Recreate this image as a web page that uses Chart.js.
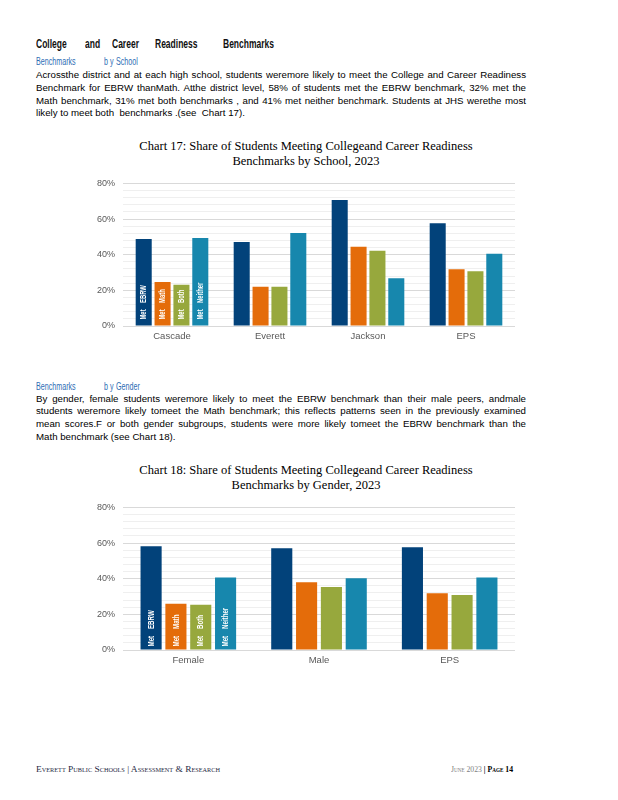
<!DOCTYPE html>
<html>
<head>
<meta charset="utf-8">
<script src="https://cdn.jsdelivr.net/npm/chart.js@4.4.0/dist/chart.umd.min.js"></script>
<style>
  body { margin: 0; background: #fff; width: 618px; height: 800px; position: relative; overflow: hidden; }
  .abs { position: absolute; white-space: nowrap; transform-origin: left center; }
  .h1 { font: bold 12.5px "Liberation Sans", Arial, sans-serif; color: #111; line-height: 12px; transform: scaleX(0.68); }
  .h2 { font: 10.5px "Liberation Sans", Arial, sans-serif; color: #2e6db4; line-height: 10px; transform: scaleX(0.68); }
  .line { position: absolute; left: 36px; width: 490px; font: 9.7px "Liberation Sans", Arial, sans-serif; color: #000; line-height: 12px; text-align: justify; text-align-last: justify; }
  .line.last { text-align-last: left; }
  .ctitle { position: absolute; left: 80px; width: 452px; text-align: center; font: 12.5px "Liberation Serif", "Times New Roman", serif; line-height: 15px; color: #000; }
  canvas { position: absolute; }
  .foot { font-family: "Liberation Serif", "Times New Roman", serif; font-variant: small-caps; line-height: 10px; font-size: 9px; }
</style>
</head>
<body>
<div class="abs h1" style="left:36px;top:38px">College</div>
<div class="abs h1" style="left:85px;top:38px">and</div>
<div class="abs h1" style="left:112px;top:38px">Career</div>
<div class="abs h1" style="left:155px;top:38px">Readiness</div>
<div class="abs h1" style="left:223px;top:38px">Benchmarks</div>

<div class="abs h2" style="left:36px;top:56px">Benchmarks</div>
<div class="abs h2" style="left:104px;top:56px">b y</div>
<div class="abs h2" style="left:116px;top:56px">School</div>

<div class="line" style="top:69px">Acrossthe district and at each high school, students weremore likely to meet the College and Career Readiness</div>
<div class="line" style="top:82px">Benchmark for EBRW thanMath. Atthe district level, 58% of students met the EBRW benchmark, 32% met the</div>
<div class="line" style="top:95px">Math benchmark, 31% met both benchmarks , and 41% met neither benchmark. Students at JHS werethe most</div>
<div class="line last" style="top:107px">likely to meet both &nbsp;benchmarks .(see &nbsp;Chart 17).</div>

<div class="ctitle" style="top:139px">Chart 17: Share of Students Meeting Collegeand Career Readiness<br>Benchmarks by School, 2023</div>
<canvas id="chart17" style="left:80px;top:170px;width:450px;height:180px"></canvas>

<div class="abs h2" style="left:36px;top:381px">Benchmarks</div>
<div class="abs h2" style="left:104px;top:381px">b y</div>
<div class="abs h2" style="left:116px;top:381px">Gender</div>

<div class="line" style="top:393px">By gender, female students weremore likely to meet the EBRW benchmark than their male peers, andmale</div>
<div class="line" style="top:405px">students weremore likely tomeet the Math benchmark; this reflects patterns seen in the previously examined</div>
<div class="line" style="top:418px">mean scores.F or both gender subgroups, students were more likely tomeet the EBRW benchmark than the</div>
<div class="line last" style="top:431px">Math benchmark (see Chart 18).</div>

<div class="ctitle" style="top:463px">Chart 18: Share of Students Meeting Collegeand Career Readiness<br>Benchmarks by Gender, 2023</div>
<canvas id="chart18" style="left:80px;top:494px;width:450px;height:180px"></canvas>

<div class="abs foot" data-fit="184" style="left:36px;top:764px;color:#1f2a44">Everett Public Schools | Assessment &amp; Research</div>
<div class="abs foot" data-fit="62" style="left:451px;top:764px;color:#808080">June 2023 <span style="color:#000;font-weight:bold">| Page 14</span></div>

<script>
const seriesNames = ["Met EBRW", "Met Math", "Met Both", "Met Neither"];
const seriesColors = ["#02427a", "#e46c0a", "#97a83d", "#1787ad"];

const schools = ["Cascade", "Everett", "Jackson", "EPS"];
const schoolEbrw = [48.8, 47.1, 70.7, 57.6];
const schoolMath = [24.7, 22, 44.4, 31.8];
const schoolBoth = [23.2, 22, 42.2, 30.7];
const schoolNeither = [49.4, 52.2, 26.8, 40.6];

const genders = ["Female", "Male", "EPS"];
const genderEbrw = [58.2, 57.1, 57.6];
const genderMath = [26, 38, 31.9];
const genderBoth = [25.4, 35.3, 30.8];
const genderNeither = [40.7, 40.2, 40.7];

const yMajorTicks = [0, 20, 40, 60, 80];

// squeeze footer text to the width it has on the page
document.querySelectorAll("[data-fit]").forEach((el) => {
  const w = el.getBoundingClientRect().width;
  el.style.transform = "scaleX(" + (Number(el.dataset.fit) / w) + ")";
});

// white rotated names inside the bars of the first group
const barNames = {
  id: "barNames",
  afterDatasetsDraw(chart, args, opts) {
    const ctx = chart.ctx;
    ctx.save();
    ctx.fillStyle = "#fff";
    ctx.font = "bold " + opts.size + "px 'Liberation Sans', Arial, sans-serif";
    ctx.textAlign = "left";
    ctx.textBaseline = "middle";
    chart.data.datasets.forEach((ds, i) => {
      const bar = chart.getDatasetMeta(i).data[0];
      ctx.save();
      ctx.translate(bar.x, bar.base - opts.offset);
      ctx.rotate(-Math.PI / 2);
      ctx.scale(0.65, 1);
      ctx.fillText(ds.label.replace(" ", "    "), 0, 0);
      ctx.restore();
    });
    ctx.restore();
  }
};

function makeChart(id, labels, values, catPct, nameSize, nameOffset) {
  const c = document.getElementById(id);
  c.width = 450;
  c.height = 180;
  return new Chart(c, {
    type: "bar",
    data: {
      labels: labels,
      datasets: values.map((v, i) => ({
        label: seriesNames[i],
        data: v,
        backgroundColor: seriesColors[i],
        categoryPercentage: catPct,
        barPercentage: 0.85
      }))
    },
    options: {
      responsive: false,
      animation: false,
      layout: { padding: { top: 10, right: 15, left: 0, bottom: 0 } },
      plugins: {
        legend: { display: false },
        tooltip: { enabled: false },
        barNames: { size: nameSize, offset: nameOffset }
      },
      scales: {
        x: {
          grid: { display: false, drawTicks: false },
          border: { display: false },
          ticks: { color: "#595959", padding: 5, font: { family: "'Liberation Sans', Arial, sans-serif", size: 9.5 } },
          afterFit(scale) { scale.height = 24; }
        },
        y: {
          min: 0,
          max: 80,
          border: { display: false },
          grid: {
            drawTicks: false,
            color: (c) => yMajorTicks.includes(c.tick.value) ? "#d9d9d9" : "#efefef",
            lineWidth: 1
          },
          ticks: {
            stepSize: 4,
            autoSkip: false,
            padding: 8,
            color: "#595959",
            font: { family: "'Liberation Sans', Arial, sans-serif", size: 9 },
            callback: (v) => yMajorTicks.includes(v) ? v + "%" : ""
          },
          afterFit(scale) { scale.width = 43; }
        }
      }
    },
    plugins: [barNames]
  });
}

makeChart("chart17", schools, [schoolEbrw, schoolMath, schoolBoth, schoolNeither], 0.77, 9, 6);
makeChart("chart18", genders, [genderEbrw, genderMath, genderBoth, genderNeither], 0.76, 9.5, 3);
</script>
</body>
</html>
